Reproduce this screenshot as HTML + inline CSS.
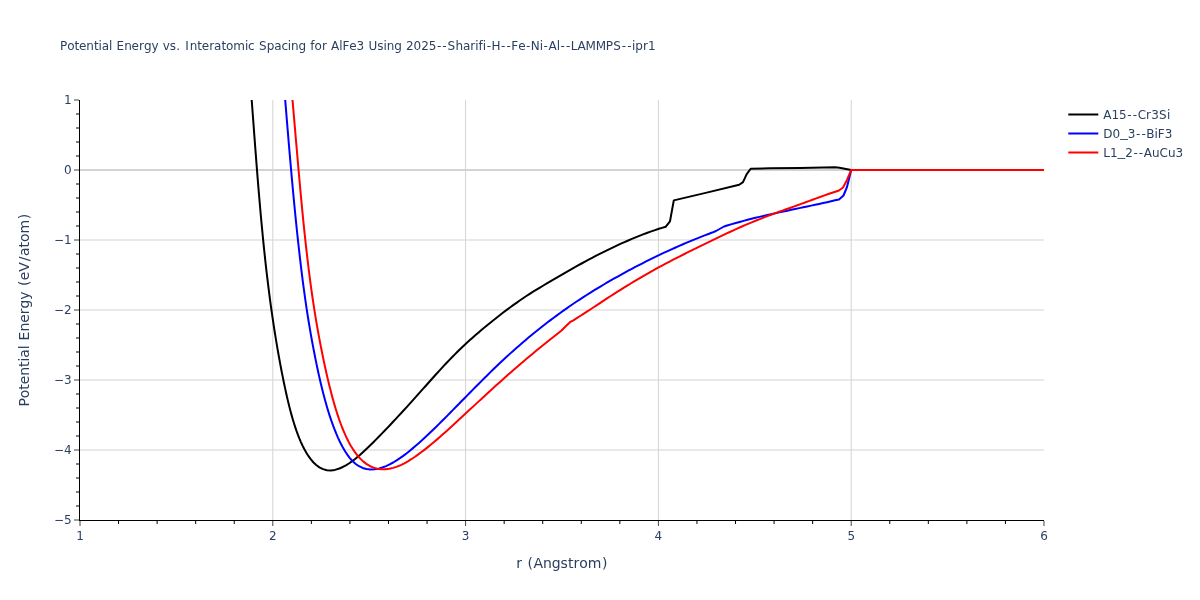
<!DOCTYPE html>
<html lang="en"><head><meta charset="utf-8"><title>Potential Energy vs. Interatomic Spacing</title>
<style>html,body{margin:0;padding:0;background:#fff;overflow:hidden}svg{display:block}text{font-family:"DejaVu Sans","Liberation Sans",sans-serif;fill:#2a3f5f;white-space:pre}</style></head><body>
<svg width="1200" height="600" viewBox="0 0 1200 600">
<rect width="1200" height="600" fill="#fff"/>
<defs><clipPath id="c"><rect x="80" y="100" width="964" height="420"/></clipPath></defs>
<g stroke="#d3d3d3" stroke-width="1" fill="none">
<path d="M272.80,100V520"/>
<path d="M465.60,100V520"/>
<path d="M658.40,100V520"/>
<path d="M851.20,100V520"/>
<path d="M80,450H1044"/>
<path d="M80,380H1044"/>
<path d="M80,310H1044"/>
<path d="M80,240H1044"/>
</g>
<path d="M80,170H1044" stroke="#d3d3d3" stroke-width="2" fill="none"/>
<g clip-path="url(#c)" fill="none" stroke-width="2" stroke-linejoin="round">
<path d="M251.25,94.00L251.55,97.97L251.85,101.97L252.15,105.96L252.44,109.95L252.74,113.95L253.03,117.94L253.33,121.93L253.63,125.93L253.93,129.92L254.22,133.91L254.52,137.91L254.83,141.90L255.13,145.89L255.43,149.89L255.74,153.88L256.05,157.87L256.36,161.86L256.67,165.86L256.98,169.85L257.30,173.84L257.62,177.83L257.95,181.82L258.27,185.81L258.60,189.80L258.94,193.79L259.28,197.78L259.62,201.77L259.97,205.76L260.32,209.75L260.67,213.74L261.03,217.73L261.40,221.72L261.77,225.70L262.15,229.69L262.53,233.68L262.92,237.66L263.32,241.65L263.72,245.63L264.13,249.61L264.55,253.60L264.98,257.58L265.41,261.56L265.85,265.54L266.30,269.52L266.76,273.50L267.23,277.47L267.71,281.45L268.20,285.42L268.70,289.40L269.21,293.37L269.72,297.34L270.25,301.31L270.79,305.28L271.35,309.24L271.91,313.21L272.48,317.17L273.07,321.13L273.66,325.09L274.27,329.05L274.90,333.01L275.53,336.96L276.18,340.91L276.84,344.86L277.51,348.81L278.20,352.75L278.90,356.70L279.62,360.64L280.35,364.57L281.09,368.51L281.85,372.44L282.63,376.37L283.42,380.29L284.23,384.21L285.06,388.13L285.91,392.04L286.79,395.95L287.69,399.85L288.62,403.75L289.59,407.63L290.60,411.51L291.65,415.37L292.75,419.22L293.91,423.06L295.13,426.87L296.41,430.66L297.78,434.43L299.23,438.16L300.79,441.85L302.46,445.49L304.27,449.06L306.22,452.55L308.36,455.94L310.70,459.19L313.29,462.24L316.19,465.00L319.42,467.36L323.01,469.13L326.87,470.16L330.86,470.39L334.83,469.89L338.67,468.78L342.36,467.23L345.90,465.35L349.29,463.23L352.56,460.92L355.72,458.46L358.80,455.89L361.80,453.25L364.75,450.54L367.66,447.79L370.53,445.00L373.38,442.18L376.20,439.34L379.00,436.48L381.80,433.61L384.58,430.73L387.35,427.84L390.11,424.94L392.86,422.02L395.60,419.11L398.33,416.18L401.05,413.24L403.76,410.29L406.47,407.34L409.16,404.38L411.85,401.41L414.52,398.43L417.19,395.44L419.86,392.45L422.52,389.46L425.18,386.47L427.84,383.47L430.50,380.48L433.17,377.50L435.85,374.52L438.54,371.56L441.25,368.60L443.97,365.67L446.71,362.75L449.48,359.85L452.27,356.98L455.09,354.14L457.93,351.32L460.81,348.53L463.71,345.77L466.64,343.04L469.59,340.34L472.57,337.66L475.58,335.02L478.61,332.40L481.66,329.80L484.73,327.24L487.82,324.69L490.93,322.17L494.06,319.67L497.21,317.19L500.37,314.74L503.55,312.31L506.75,309.90L509.97,307.51L513.20,305.15L516.46,302.82L519.74,300.52L523.04,298.25L526.37,296.03L529.72,293.84L533.10,291.70L536.51,289.60L539.94,287.53L543.39,285.49L546.85,283.47L550.31,281.45L553.76,279.43L557.21,277.40L560.67,275.37L564.12,273.35L567.59,271.35L571.07,269.36L574.55,267.39L578.05,265.44L581.56,263.50L585.07,261.59L588.60,259.69L592.14,257.82L595.69,255.97L599.25,254.14L602.82,252.33L606.41,250.55L610.01,248.79L613.62,247.07L617.25,245.37L620.89,243.70L624.54,242.07L628.21,240.46L631.90,238.90L635.60,237.36L639.32,235.87L643.05,234.42L646.80,233.01L650.56,231.65L654.35,230.34L658.14,229.07L661.96,227.86L665.80,226.70L670.00,221.30L673.80,200.40L706.70,192.60L739.20,184.80L743.00,182.10L746.70,174.20L750.70,168.75L770.00,168.30L800.00,168.00L835.00,167.20L839.50,167.70L851.20,170.00L1044.00,170.00" stroke="#000"/>
<path d="M284.70,94.00L285.04,97.95L285.37,101.95L285.69,105.95L286.02,109.94L286.35,113.94L286.67,117.94L287.00,121.93L287.33,125.93L287.67,129.93L288.00,133.92L288.33,137.92L288.67,141.91L289.01,145.91L289.35,149.91L289.70,153.90L290.04,157.90L290.39,161.89L290.74,165.89L291.10,169.88L291.45,173.87L291.81,177.87L292.18,181.86L292.54,185.86L292.91,189.85L293.29,193.84L293.66,197.83L294.04,201.83L294.43,205.82L294.82,209.81L295.22,213.80L295.62,217.79L296.02,221.78L296.43,225.77L296.84,229.76L297.26,233.74L297.69,237.73L298.12,241.72L298.56,245.71L299.00,249.69L299.46,253.68L299.91,257.66L300.38,261.64L300.85,265.62L301.34,269.61L301.83,273.59L302.33,277.56L302.84,281.54L303.36,285.52L303.89,289.49L304.44,293.47L304.99,297.44L305.56,301.41L306.14,305.38L306.73,309.34L307.34,313.30L307.97,317.27L308.60,321.23L309.26,325.18L309.92,329.14L310.61,333.09L311.30,337.04L312.02,340.98L312.75,344.93L313.49,348.87L314.25,352.80L315.03,356.74L315.82,360.67L316.63,364.60L317.46,368.52L318.30,372.44L319.17,376.36L320.06,380.27L320.98,384.17L321.92,388.07L322.89,391.96L323.89,395.84L324.93,399.72L326.00,403.58L327.12,407.43L328.27,411.27L329.48,415.10L330.73,418.91L332.04,422.70L333.41,426.46L334.85,430.21L336.36,433.92L337.96,437.60L339.64,441.24L341.42,444.83L343.33,448.36L345.39,451.80L347.62,455.13L350.06,458.31L352.76,461.28L355.75,463.95L359.05,466.22L362.66,467.96L366.51,469.06L370.49,469.50L374.49,469.34L378.44,468.66L382.30,467.55L386.04,466.12L389.67,464.41L393.19,462.50L396.61,460.41L399.95,458.18L403.21,455.85L406.41,453.43L409.55,450.94L412.65,448.39L415.70,445.79L418.72,443.15L421.70,440.47L424.66,437.76L427.59,435.02L430.50,432.26L433.39,429.48L436.26,426.68L439.12,423.87L441.96,421.04L444.80,418.21L447.62,415.36L450.44,412.51L453.26,409.65L456.07,406.79L458.87,403.93L461.68,401.06L464.49,398.20L467.30,395.34L470.11,392.48L472.92,389.62L475.75,386.77L478.57,383.93L481.41,381.09L484.25,378.26L487.10,375.44L489.96,372.63L492.83,369.84L495.72,367.05L498.62,364.28L501.54,361.53L504.47,358.80L507.42,356.08L510.38,353.38L513.37,350.70L516.37,348.03L519.38,345.39L522.41,342.77L525.46,340.16L528.53,337.58L531.62,335.02L534.72,332.48L537.84,329.96L540.97,327.46L544.13,324.98L547.30,322.53L550.49,320.10L553.70,317.70L556.93,315.32L560.17,312.96L563.43,310.62L566.71,308.31L570.01,306.03L573.32,303.77L576.65,301.53L579.99,299.32L583.35,297.13L586.73,294.97L590.12,292.83L593.53,290.71L596.95,288.62L600.38,286.55L603.83,284.50L607.29,282.48L610.76,280.47L614.25,278.48L617.74,276.52L621.25,274.57L624.76,272.64L628.29,270.73L631.82,268.84L635.37,266.96L638.93,265.11L642.50,263.28L646.07,261.47L649.66,259.68L653.26,257.91L656.87,256.16L660.49,254.43L664.12,252.72L667.75,251.04L671.40,249.38L675.06,247.73L678.73,246.12L682.41,244.52L686.10,242.94L689.80,241.39L693.50,239.86L697.22,238.36L700.94,236.87L704.68,235.41L708.42,233.98L712.18,232.56L716.00,231.00L724.00,226.50L727.92,225.27L731.83,224.12L735.74,223.00L739.67,221.92L743.61,220.86L747.55,219.82L751.50,218.82L755.46,217.84L759.42,216.88L763.38,215.94L767.35,215.02L771.33,214.12L775.31,213.23L779.29,212.36L783.27,211.50L787.26,210.65L791.25,209.80L795.23,208.96L799.22,208.13L803.21,207.29L807.20,206.45L811.19,205.61L815.17,204.76L819.16,203.90L823.14,203.03L827.12,202.15L831.10,201.25L835.07,200.34L839.00,199.50L843.50,195.50L847.00,187.00L851.20,170.00L1044.00,170.00" stroke="#00f"/>
<path d="M292.00,94.00L292.33,98.06L292.69,102.07L293.03,106.08L293.38,110.09L293.73,114.10L294.08,118.11L294.42,122.12L294.76,126.13L295.11,130.14L295.45,134.15L295.80,138.16L296.14,142.17L296.49,146.18L296.83,150.19L297.18,154.20L297.53,158.21L297.88,162.22L298.23,166.23L298.58,170.24L298.94,174.24L299.30,178.25L299.66,182.26L300.02,186.27L300.39,190.28L300.76,194.29L301.13,198.29L301.51,202.30L301.90,206.31L302.28,210.31L302.67,214.32L303.07,218.32L303.47,222.33L303.88,226.33L304.30,230.33L304.72,234.34L305.14,238.34L305.58,242.34L306.02,246.34L306.47,250.34L306.93,254.34L307.39,258.34L307.87,262.33L308.35,266.33L308.84,270.32L309.35,274.32L309.86,278.31L310.39,282.30L310.93,286.29L311.48,290.27L312.04,294.26L312.61,298.24L313.20,302.22L313.81,306.20L314.43,310.18L315.06,314.15L315.71,318.13L316.38,322.09L317.06,326.06L317.76,330.02L318.47,333.99L319.20,337.94L319.95,341.90L320.71,345.85L321.49,349.80L322.28,353.74L323.09,357.69L323.92,361.63L324.76,365.56L325.62,369.49L326.49,373.42L327.39,377.35L328.32,381.26L329.26,385.17L330.24,389.08L331.24,392.98L332.27,396.87L333.34,400.75L334.45,404.62L335.60,408.47L336.79,412.32L338.04,416.14L339.34,419.95L340.71,423.74L342.14,427.50L343.66,431.22L345.27,434.91L346.98,438.56L348.80,442.14L350.76,445.66L352.86,449.10L355.12,452.42L357.58,455.61L360.25,458.62L363.16,461.39L366.33,463.87L369.76,465.97L373.44,467.61L377.30,468.72L381.28,469.28L385.31,469.29L389.30,468.81L393.22,467.90L397.04,466.64L400.75,465.08L404.35,463.29L407.86,461.33L411.29,459.22L414.65,456.99L417.94,454.68L421.18,452.30L424.38,449.85L427.53,447.35L430.65,444.81L433.74,442.23L436.81,439.62L439.84,436.98L442.86,434.32L445.87,431.64L448.86,428.94L451.83,426.24L454.80,423.52L457.76,420.79L460.72,418.06L463.67,415.32L466.62,412.58L469.57,409.85L472.52,407.11L475.47,404.38L478.43,401.64L481.39,398.91L484.35,396.19L487.31,393.47L490.28,390.75L493.26,388.04L496.24,385.34L499.23,382.64L502.23,379.96L505.23,377.28L508.24,374.61L511.27,371.95L514.30,369.31L517.34,366.67L520.39,364.04L523.45,361.43L526.52,358.83L529.60,356.24L532.69,353.66L535.79,351.09L538.90,348.54L542.02,345.99L545.15,343.47L548.30,340.95L551.45,338.45L554.62,335.97L557.79,333.50L561.00,331.00L566.00,326.00L570.00,322.20L573.36,320.28L576.77,318.16L580.15,316.01L583.53,313.85L586.89,311.67L590.25,309.47L593.60,307.27L596.95,305.06L600.30,302.85L603.65,300.65L607.00,298.45L610.37,296.27L613.74,294.09L617.12,291.94L620.51,289.80L623.91,287.67L627.32,285.57L630.75,283.48L634.18,281.40L637.63,279.35L641.08,277.31L644.55,275.30L648.03,273.30L651.52,271.33L655.02,269.37L658.54,267.44L662.06,265.54L665.60,263.65L669.15,261.79L672.71,259.94L676.28,258.11L679.86,256.29L683.44,254.49L687.03,252.70L690.62,250.92L694.22,249.15L697.82,247.38L701.42,245.62L705.02,243.85L708.63,242.09L712.23,240.34L715.85,238.59L719.46,236.86L723.08,235.13L726.71,233.42L730.34,231.73L733.99,230.06L737.64,228.40L741.31,226.77L744.98,225.17L748.67,223.59L752.37,222.05L756.09,220.54L759.82,219.06L763.56,217.61L767.30,216.18L771.06,214.78L774.82,213.39L778.59,212.02L782.36,210.65L786.14,209.30L789.91,207.95L793.69,206.59L797.46,205.24L801.23,203.87L805.00,202.50L808.77,201.12L812.53,199.74L816.30,198.37L820.07,197.00L823.85,195.65L827.63,194.31L831.42,192.99L835.21,191.70L839.00,190.50L843.00,187.50L847.00,180.00L851.20,170.00L1044.00,170.00" stroke="#f00"/>
</g>
<g stroke="#444" stroke-width="1" fill="none">
<path d="M80.00,521v5"/>
<path d="M118.56,521v3" stroke="#000"/>
<path d="M157.12,521v3" stroke="#000"/>
<path d="M195.68,521v3" stroke="#000"/>
<path d="M234.24,521v3" stroke="#000"/>
<path d="M272.80,521v5"/>
<path d="M311.36,521v3" stroke="#000"/>
<path d="M349.92,521v3" stroke="#000"/>
<path d="M388.48,521v3" stroke="#000"/>
<path d="M427.04,521v3" stroke="#000"/>
<path d="M465.60,521v5"/>
<path d="M504.16,521v3" stroke="#000"/>
<path d="M542.72,521v3" stroke="#000"/>
<path d="M581.28,521v3" stroke="#000"/>
<path d="M619.84,521v3" stroke="#000"/>
<path d="M658.40,521v5"/>
<path d="M696.96,521v3" stroke="#000"/>
<path d="M735.52,521v3" stroke="#000"/>
<path d="M774.08,521v3" stroke="#000"/>
<path d="M812.64,521v3" stroke="#000"/>
<path d="M851.20,521v5"/>
<path d="M889.76,521v3" stroke="#000"/>
<path d="M928.32,521v3" stroke="#000"/>
<path d="M966.88,521v3" stroke="#000"/>
<path d="M1005.44,521v3" stroke="#000"/>
<path d="M1044.00,521v5"/>
<path d="M79,100h-5"/>
<path d="M79,114h-3" stroke="#000"/>
<path d="M79,128h-3" stroke="#000"/>
<path d="M79,142h-3" stroke="#000"/>
<path d="M79,156h-3" stroke="#000"/>
<path d="M79,170h-5"/>
<path d="M79,184h-3" stroke="#000"/>
<path d="M79,198h-3" stroke="#000"/>
<path d="M79,212h-3" stroke="#000"/>
<path d="M79,226h-3" stroke="#000"/>
<path d="M79,240h-5"/>
<path d="M79,254h-3" stroke="#000"/>
<path d="M79,268h-3" stroke="#000"/>
<path d="M79,282h-3" stroke="#000"/>
<path d="M79,296h-3" stroke="#000"/>
<path d="M79,310h-5"/>
<path d="M79,324h-3" stroke="#000"/>
<path d="M79,338h-3" stroke="#000"/>
<path d="M79,352h-3" stroke="#000"/>
<path d="M79,366h-3" stroke="#000"/>
<path d="M79,380h-5"/>
<path d="M79,394h-3" stroke="#000"/>
<path d="M79,408h-3" stroke="#000"/>
<path d="M79,422h-3" stroke="#000"/>
<path d="M79,436h-3" stroke="#000"/>
<path d="M79,450h-5"/>
<path d="M79,464h-3" stroke="#000"/>
<path d="M79,478h-3" stroke="#000"/>
<path d="M79,492h-3" stroke="#000"/>
<path d="M79,506h-3" stroke="#000"/>
<path d="M79,520h-5"/>
</g>
<path d="M79,520.5H1044" stroke="#000" stroke-width="1" fill="none"/>
<path d="M79.5,100V520" stroke="#000" stroke-width="1" fill="none"/>
<g font-size="12">
<text x="76.18" y="540.40" font-size="12">1</text>
<text x="268.98" y="540.40" font-size="12">2</text>
<text x="461.78" y="540.40" font-size="12">3</text>
<text x="654.58" y="540.40" font-size="12">4</text>
<text x="847.38" y="540.40" font-size="12">5</text>
<text x="1040.18" y="540.40" font-size="12">6</text>
<text x="63.97" y="104.20" font-size="12">1</text>
<text x="63.97" y="174.20" font-size="12">0</text>
<text x="54.03 63.97" y="244.20" font-size="12">−1</text>
<text x="54.03 63.97" y="314.20" font-size="12">−2</text>
<text x="54.03 63.97" y="384.20" font-size="12">−3</text>
<text x="54.03 63.97" y="454.20" font-size="12">−4</text>
<text x="54.03 63.97" y="524.20" font-size="12">−5</text>
</g>
<text x="60.00 67.19 74.49 79.08 86.32 93.92 98.60 101.83 109.07 112.57 116.58 124.14 131.61 138.95 143.89 151.42 158.71 162.72 169.80 176.31 180.60 185.36 189.64 197.23 201.82 209.16 214.11 221.38 226.06 233.34 244.97 248.10 254.71 259.02 266.84 274.29 281.38 287.77 291.07 298.58 306.31 310.31 314.50 321.89 327.11 331.11 339.28 342.58 349.35 356.59 364.41 368.42 377.18 383.39 386.69 394.20 401.93 405.93 413.55 421.16 428.77 436.94 442.37 447.54 455.43 462.94 470.30 475.29 478.59 482.78 486.64 491.51 501.06 506.49 511.37 518.14 525.94 530.82 539.75 543.61 548.48 556.64 560.50 565.94 570.81 577.48 585.55 595.64 605.84 613.35 621.80 627.24 632.09 635.32 642.94 647.95" y="50.00" font-size="12">Potential Energy vs. Interatomic Spacing for AlFe3 Using 2025--Sharifi-H--Fe-Ni-Al--LAMMPS--ipr1</text>
<text x="516.27 522.37 527.51 533.42 542.99 551.77 560.58 567.89 573.50 579.33 587.86 601.93" y="568.00" font-size="14">r (Angstrom)</text>
<g transform="translate(29,310) rotate(-90)"><text x="-96.60 -88.19 -79.65 -74.28 -65.81 -56.92 -51.45 -47.67 -39.20 -35.10 -30.41 -21.57 -12.83 -4.24 1.54 10.35 18.87 24.01 29.78 38.26 48.66 54.11 62.62 68.09 76.61 90.69" y="0.00" font-size="14">Potential Energy (eV/atom)</text></g>
<path d="M1068.28,114.5h30" stroke="#000" stroke-width="2" fill="none"/>
<text x="1103.28 1111.49 1119.12 1127.31 1132.76 1137.65 1146.12 1151.15 1159.08 1166.97" y="118.70" font-size="12">A15--Cr3Si</text>
<path d="M1068.28,133.5h30" stroke="#00f" stroke-width="2" fill="none"/>
<text x="1103.29 1112.53 1120.98 1127.79 1135.99 1141.43 1146.32 1154.53 1157.84 1164.74" y="137.70" font-size="12">D0<tspan x="1120.16" dy="-1.1" textLength="7.63" lengthAdjust="spacingAndGlyphs">_</tspan><tspan dy="1.1">3--BiF3</tspan></text>
<path d="M1068.28,152.5h30" stroke="#f00" stroke-width="2" fill="none"/>
<text x="1103.28 1109.96 1118.41 1125.23 1133.42 1138.87 1143.76 1151.96 1159.56 1167.93 1175.53" y="156.70" font-size="12">L1<tspan x="1117.60" dy="-1.1" textLength="7.63" lengthAdjust="spacingAndGlyphs">_</tspan><tspan dy="1.1">2--AuCu3</tspan></text>
</svg></body></html>
